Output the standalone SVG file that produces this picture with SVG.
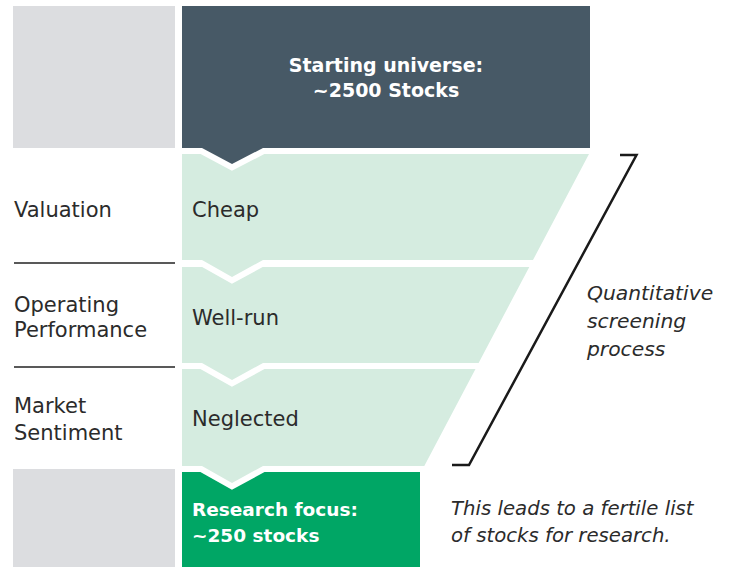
<svg xmlns="http://www.w3.org/2000/svg" width="729" height="567" viewBox="0 0 729 567">
  <style>
    .gray { fill: #dcdde0; }
    .band { fill: #d5ece0; }
    .gap { fill: none; stroke: #ffffff; stroke-width: 12; stroke-linejoin: miter; }
    .lbl { font-family: "DejaVu Sans", "Liberation Sans", sans-serif; font-size: 21px; fill: #2b2b2b; }
    .bold { font-family: "DejaVu Sans", "Liberation Sans", sans-serif; font-weight: bold; fill: #ffffff; }
    .ital { font-family: "DejaVu Sans", "Liberation Sans", sans-serif; font-style: italic; fill: #2b2b2b; }
    .sep { stroke: #222222; stroke-width: 1.5; }
  </style>
  <rect width="729" height="567" fill="#ffffff"/>

  <g id="left-top-gray"><rect class="gray" x="13" y="6" width="162" height="142"/></g>
  <g id="left-bottom-gray"><rect class="gray" x="13" y="469" width="162" height="98"/></g>

  <g id="research-focus">
    <rect x="182" y="472" width="238" height="95" fill="#00a665"/>
    <text class="bold" font-size="18.5" x="192" y="516">Research focus:</text>
    <text class="bold" font-size="18.5" x="192" y="542">~250 stocks</text>
  </g>

  <g id="band-neglected">
    <polyline class="gap" points="188,466 202,466 232,483 263,466 277,466"/>
    <polygon class="band" points="182,369 475.5,369 424.3,466 263,466 232,483 202,466 182,466"/>
    <text class="lbl" x="192" y="426">Neglected</text>
  </g>

  <g id="band-well-run">
    <polyline class="gap" points="188,363 202,363 232,380 263,363 277,363"/>
    <polygon class="band" points="182,267 529.3,267 478.6,363 263,363 232,380 202,363 182,363"/>
    <text class="lbl" x="192" y="325">Well-run</text>
  </g>

  <g id="band-cheap">
    <polyline class="gap" points="188,260 202,260 232,277 263,260 277,260"/>
    <polygon class="band" points="182,154 589,154 533,260 263,260 232,277 202,260 182,260"/>
    <text class="lbl" x="192" y="217">Cheap</text>
  </g>

  <g id="starting-universe">
    <polyline class="gap" points="188,148 202,148 232,164 263,148 277,148"/>
    <polygon fill="#475966" points="182,6 590,6 590,148 263,148 232,164 202,148 182,148"/>
    <text class="bold" font-size="19" x="386" y="72" text-anchor="middle">Starting universe:</text>
    <text class="bold" font-size="19" x="386" y="97" text-anchor="middle">~2500 Stocks</text>
  </g>

  <g id="criteria-labels">
    <text class="lbl" x="14" y="217">Valuation</text>
    <text class="lbl" x="14" y="312">Operating</text>
    <text class="lbl" x="14" y="337">Performance</text>
    <text class="lbl" x="14" y="413">Market</text>
    <text class="lbl" x="14" y="440">Sentiment</text>
  </g>

  <g id="connectors">
    <line class="sep" x1="14" y1="263" x2="175" y2="263"/>
    <line class="sep" x1="14" y1="367" x2="175" y2="367"/>
    <path d="M620,155 H636.5 L469,465 H452" fill="none" stroke="#1a1a1a" stroke-width="2.5" stroke-linejoin="miter"/>
  </g>

  <g id="screening-note">
    <text class="ital" font-size="20.3" x="587" y="300">Quantitative</text>
    <text class="ital" font-size="20.3" x="587" y="328">screening</text>
    <text class="ital" font-size="20.3" x="587" y="356">process</text>
  </g>

  <g id="research-note">
    <text class="ital" font-size="19.7" x="451" y="515">This leads to a fertile list</text>
    <text class="ital" font-size="19.7" x="451" y="542">of stocks for research.</text>
  </g>
</svg>
